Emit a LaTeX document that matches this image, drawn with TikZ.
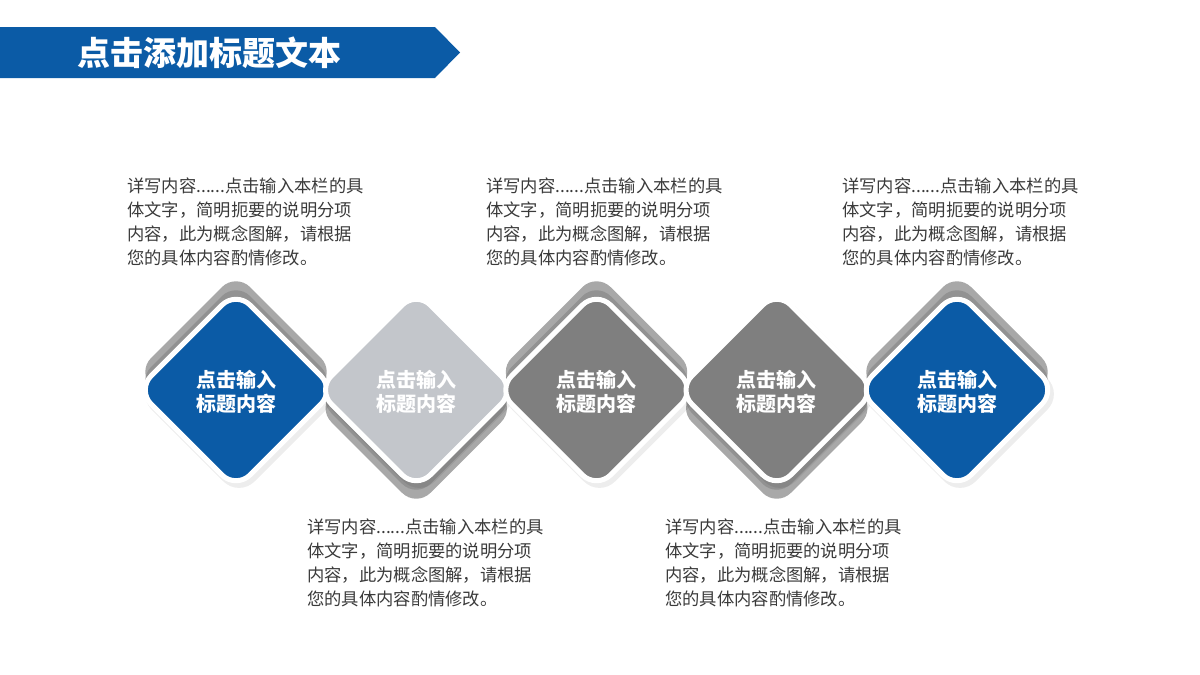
\documentclass[tikz,border=0pt]{standalone}
\usepackage{fontspec}
\setmainfont{Noto Sans CJK SC}
\usetikzlibrary{calc}
\definecolor{titleblue}{HTML}{0B5BA6}
\definecolor{lightgrey}{HTML}{C3C6CB}
\definecolor{darkgrey}{HTML}{7F7F7F}
\definecolor{shadowgrey}{HTML}{A8A8A8}
\definecolor{shadowdark}{HTML}{929292}
\definecolor{bodytext}{HTML}{3A3A3A}
\newcommand{\desctext}{详写内容......点击输入本栏的具\\体文字，简明扼要的说明分项\\内容，此为概念图解，请根据\\您的具体内容酌情修改。}
\newcommand{\cardtext}{点击输入\\标题内容}

\begin{document}
\begin{tikzpicture}[x=1pt, y=-1pt,
  desc/.style={anchor=north west, inner sep=0pt, align=left, text=bodytext,
    font=\fontsize{17.3}{24}\selectfont},
  cardlabel/.style={inner sep=0pt, align=center, text=white,
    font=\fontsize{20}{24}\selectfont\bfseries},
  cardedge/.style={draw=white, line width=5pt, rounded corners=20pt}]
  \useasboundingbox (0,0) rectangle (1200,675);

  % Title banner
  \fill[titleblue] (0,27) -- (435,27) -- (460,52.5) -- (435,78) -- (0,78) -- cycle;
  \node[anchor=west, inner sep=0pt, text=white,
    font=\fontsize{33}{40}\selectfont\bfseries] (title) at (77,53) {点击添加标题文本};

  % Shadow copies (shifted up or down)
  \foreach \i/\dy in {1/-18, 2/18, 3/-18, 4/18, 5/-18}{
    \pgfmathsetmacro{\xc}{236 + (\i-1)*180.25}
    \pgfmathsetmacro{\yc}{390 + \dy}
    \fill[shadowgrey, rounded corners=20pt]
      (\xc, \yc-99) -- (\xc+99, \yc) -- (\xc, \yc+99) -- (\xc-99, \yc) -- cycle;
    \fill[shadowdark, rounded corners=20pt]
      (\xc, \yc-\dy/2-99) -- (\xc+99, \yc-\dy/2) -- (\xc, \yc-\dy/2+99) -- (\xc-99, \yc-\dy/2) -- cycle;
  }

  % Diamond cards
  \foreach \i/\col in {1/titleblue, 2/lightgrey, 3/darkgrey, 4/darkgrey, 5/titleblue}{
    \pgfmathsetmacro{\xc}{236 + (\i-1)*180.25}
    % soft shadow
    \fill[black, opacity=0.07, rounded corners=22pt]
      (\xc+3, 291) -- (\xc+106, 394) -- (\xc+3, 497) -- (\xc-100, 394) -- cycle;
    % card
    \filldraw[fill=\col, cardedge]
      (\xc, 291) -- (\xc+99, 390) -- (\xc, 489) -- (\xc-99, 390) -- cycle;
    \node[cardlabel] (card\i) at (\xc, 392) {\cardtext};
  }

  % Description texts
  \node[desc] (note1) at (127,178) {\desctext};
  \node[desc] (note3) at (486,178) {\desctext};
  \node[desc] (note5) at (842,178) {\desctext};
  \node[desc] (note2) at (307,519) {\desctext};
  \node[desc] (note4) at (665,519) {\desctext};
\end{tikzpicture}
\end{document}
